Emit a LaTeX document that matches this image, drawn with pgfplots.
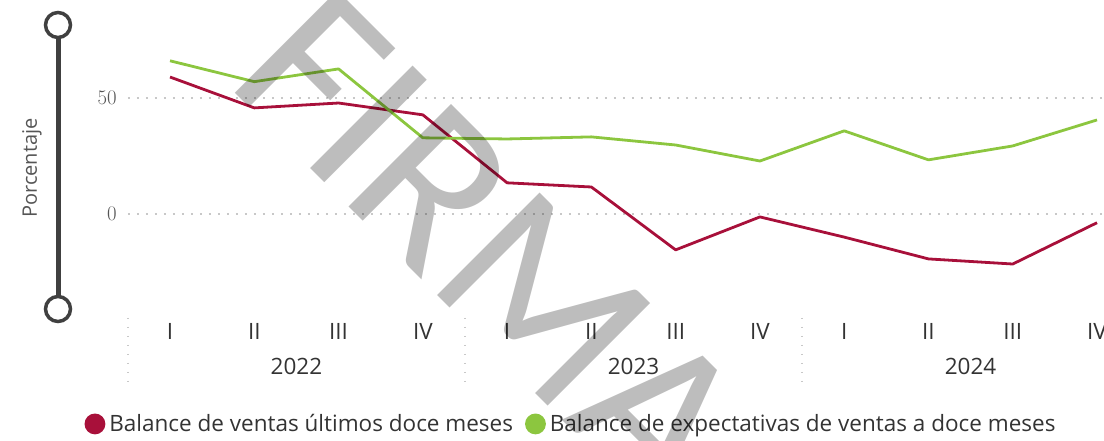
\documentclass[border=0pt]{standalone}
\usepackage{pgfplots}
\pgfplotsset{compat=1.18}
\usepackage{fontspec}
\setmainfont{Open Sans}
\newfontfamily\wmfont{Carlito}
\definecolor{redl}{RGB}{168,16,58}
\definecolor{greenl}{RGB}{140,198,63}
\definecolor{lab}{RGB}{51,51,51}
\definecolor{ylab}{RGB}{85,85,85}
\definecolor{gridc}{RGB}{200,200,200}
\definecolor{slider}{RGB}{64,64,64}
\newcommand\lf{\fontsize{22.5}{27}\selectfont}
\begin{document}
\begin{tikzpicture}[x=1pt,y=1pt]
\begin{axis}[
  at={(127.9pt,0pt)}, anchor=north west,
  scale only axis, width=976.1pt, height=305pt,
  xmin=-0.5, xmax=11.083, ymin=-39.27, ymax=92.2,
  clip=false,
  axis line style={draw=none},
  major tick length=0pt,
  tick style={draw=none},
  ytick={0,50},
  yticklabel style={font=\lf, text=ylab, inner sep=0pt, xshift=-11pt},
  xtick={0,...,11},
  xticklabels={I,II,III,IV,I,II,III,IV,I,II,III,IV},
  xticklabel style={font=\lf, text=lab, anchor=base, inner sep=0pt, yshift=-34pt},
  ymajorgrids,
  grid style={gridc, line width=1.6pt, dash pattern=on 1.6pt off 7.4pt},
  legend style={at={(-0.0444,-0.39)}, anchor=west, draw=none, fill=none,
    inner sep=0pt, outer sep=0pt, font=\lf, text=lab, legend columns=-1,
    /tikz/every odd column/.style={column sep=4pt},
    /tikz/every even column/.style={column sep=12pt},
    nodes={inner sep=0pt}},
  legend image code/.code={\fill[#1] (9pt,0pt) circle (9pt);},
]
\addplot[redl, line width=2.8pt, line join=round] coordinates {
  (0,59) (1,45.7) (2,47.8) (3,42.7) (4,13.4) (5,11.6) (6,-15.5) (7,-1.3) (8,-10) (9,-19.4) (10,-21.6) (11,-3.8)};
\addlegendentry{Balance de ventas últimos doce meses}
\addplot[greenl, line width=2.8pt, line join=round] coordinates {
  (0,66) (1,57) (2,62.5) (3,32.8) (4,32.3) (5,33.2) (6,29.7) (7,22.8) (8,35.8) (9,23.3) (10,29.3) (11,40.5)};
\addlegendentry{Balance de expectativas de ventas a doce meses}
\node[anchor=base, font=\lf, text=lab, yshift=-69pt] at (axis cs:1.5,-39.27) {2022};
\node[anchor=base, font=\lf, text=lab, yshift=-69pt] at (axis cs:5.5,-39.27) {2023};
\node[anchor=base, font=\lf, text=lab, yshift=-69pt] at (axis cs:9.5,-39.27) {2024};
\draw[gridc, line width=1.6pt, dash pattern=on 1.6pt off 7.4pt] (axis cs:-0.5,-44.8) -- (axis cs:-0.5,-72.4);
\draw[gridc, line width=1.6pt, dash pattern=on 1.6pt off 7.4pt] (axis cs:3.5,-44.8) -- (axis cs:3.5,-72.4);
\draw[gridc, line width=1.6pt, dash pattern=on 1.6pt off 7.4pt] (axis cs:7.5,-44.8) -- (axis cs:7.5,-72.4);
\end{axis}
% slider
\draw[slider, line width=5pt] (58,-25) -- (58,-309);
\draw[slider, line width=3.5pt, fill=white] (58,-25) circle (12.5);
\draw[slider, line width=3.5pt, fill=white] (58,-309) circle (12.5);
\node[rotate=90, font=\fontsize{20}{24}\selectfont, text=ylab] at (32,-168) {Porcentaje};
% watermark
\node[rotate=-45, anchor=base west, inner sep=0pt, font=\wmfont\fontsize{226}{226}\selectfont, text=black, opacity=0.26] at (224,-82) {FIRMA};
\pgfresetboundingbox
\useasboundingbox (0,0) rectangle (1104,-440);
\end{tikzpicture}
\end{document}
